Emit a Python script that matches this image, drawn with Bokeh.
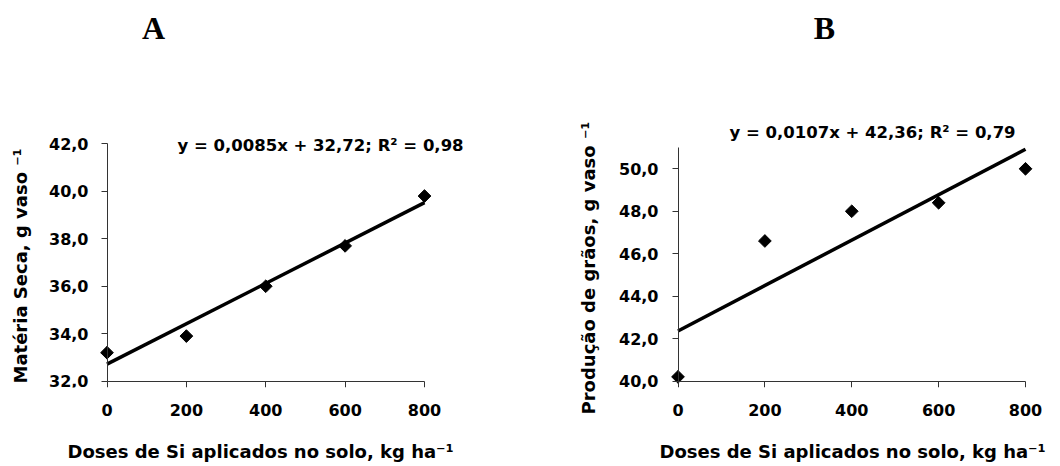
import math
from bokeh.plotting import figure
from bokeh.layouts import row
from bokeh.models import Range1d, FixedTicker, CustomJSTickFormatter, Label, LinearAxis, Title
from bokeh.embed import file_html
from bokeh.resources import INLINE

# ---------------- data ----------------
doses = [0, 200, 400, 600, 800]
materia_seca = [33.2, 33.9, 36.0, 37.7, 39.8]
producao_graos = [40.2, 46.6, 48.0, 48.4, 50.0]

fit_x = [0, 800]
fit_materia = [32.72, 39.52]
fit_producao = [42.36, 50.92]

x_ticks = [0, 200, 400, 600, 800]
y_ticks_A = [32, 34, 36, 38, 40, 42]
y_ticks_B = [40, 42, 44, 46, 48, 50]

eq_A = "y = 0,0085x + 32,72; R² = 0,98"
eq_B = "y = 0,0107x + 42,36; R² = 0,79"
x_title = "Doses de Si aplicados no solo, kg ha⁻¹"
y_title_A = "Matéria Seca, g vaso  ⁻¹"
y_title_B = "Produção de grãos, g vaso  ⁻¹"
heading_A = "A"
heading_B = "B"

# ---------------- layout ----------------
W, H = 530, 466
FONT = "DejaVu Sans"
AXIS_COLOR = "#333333"
TICK_FONT = "16px"
TITLE_FONT = "18px"
EQ_FONT = "16.5px"
COMMA = "return tick.toFixed(1).replace('.', ',');"


def bold_ticks(ax):
    ax.major_label_text_font = FONT
    ax.major_label_text_font_style = "bold"
    ax.major_label_text_font_size = TICK_FONT
    ax.major_label_text_color = "black"


def no_rule(ax):
    ax.axis_line_color = None
    ax.major_tick_line_color = None
    ax.minor_tick_line_color = None
    ax.major_tick_in = 0
    ax.major_tick_out = 0
    ax.minor_tick_in = 0
    ax.minor_tick_out = 0


def make_panel(frame, xpix, ypix, xvals, yvals, ybounds, yticks,
               xs, ys, fx, fy, y_title, ytitle_offset, ytitle_standoff,
               ylabel_mode, ylabel_standoff, eq, eq_pos, heading, head_pos):
    fl, fr, ft, fb = frame
    sx = (xpix[1] - xpix[0]) / (xvals[1] - xvals[0])
    sy = (ypix[0] - ypix[1]) / (yvals[1] - yvals[0])
    x_start = xvals[0] - (xpix[0] - fl) / sx
    x_end = xvals[1] + (fr - xpix[1]) / sx
    y_start = yvals[0] - (fb - ypix[0]) / sy
    y_end = yvals[1] + (ypix[1] - ft) / sy

    def dx(px):
        return xvals[0] + (px - xpix[0]) / sx

    def dy(py):
        return yvals[0] + (ypix[0] - py) / sy

    p = figure(width=W, height=H, x_range=Range1d(x_start, x_end),
               y_range=Range1d(y_start, y_end), output_backend="svg",
               toolbar_location=None,
               min_border_left=fl, min_border_right=W - fr,
               min_border_top=ft, min_border_bottom=H - fb)
    p.outline_line_color = None
    p.xgrid.visible = False
    p.ygrid.visible = False
    p.background_fill_color = "white"
    p.border_fill_color = "white"

    # bottom axis at frame edge: tick labels and x title only
    xa = p.xaxis[0]
    xa.ticker = FixedTicker(ticks=x_ticks)
    xa.bounds = (x_ticks[0], x_ticks[-1])
    no_rule(xa)
    bold_ticks(xa)
    xa.major_label_standoff = 16
    xa.axis_label = x_title
    xa.axis_label_standoff = 22
    xa.axis_label_text_font = FONT
    xa.axis_label_text_font_style = "bold"
    xa.axis_label_text_font_size = TITLE_FONT
    xa.axis_label_text_color = "black"

    # left axis at frame edge: tick labels (mode "edge") or hidden
    ya = p.yaxis[0]
    if ylabel_mode == "edge":
        ya.ticker = FixedTicker(ticks=yticks)
        ya.bounds = ybounds
        ya.formatter = CustomJSTickFormatter(code=COMMA)
        no_rule(ya)
        bold_ticks(ya)
        ya.major_label_standoff = ylabel_standoff
    else:
        ya.visible = False

    # x axis line and ticks at y = axis minimum
    x_line = LinearAxis(ticker=FixedTicker(ticks=x_ticks), bounds=(x_ticks[0], x_ticks[-1]),
                        fixed_location=yvals[0],
                        formatter=CustomJSTickFormatter(code="return '';"))
    x_line.axis_line_color = AXIS_COLOR
    x_line.major_tick_line_color = AXIS_COLOR
    x_line.major_tick_in = 6
    x_line.major_tick_out = 0
    x_line.minor_tick_line_color = None
    x_line.minor_tick_in = 0
    x_line.minor_tick_out = 0
    x_line.major_label_standoff = 0
    x_line.major_label_text_font_size = "0px"
    p.add_layout(x_line, "above")

    # y axis line and ticks at x = 0 (tick labels too in mode "fixed")
    if ylabel_mode == "fixed":
        fmt = CustomJSTickFormatter(code=COMMA)
    else:
        fmt = CustomJSTickFormatter(code="return '';")
    y_line = LinearAxis(ticker=FixedTicker(ticks=yticks), bounds=ybounds,
                        fixed_location=xvals[0], formatter=fmt)
    y_line.axis_line_color = AXIS_COLOR
    y_line.major_tick_line_color = AXIS_COLOR
    y_line.major_tick_in = 6
    y_line.major_tick_out = 0
    y_line.minor_tick_line_color = None
    y_line.minor_tick_in = 0
    y_line.minor_tick_out = 0
    if ylabel_mode == "fixed":
        y_line.major_label_standoff = ylabel_standoff
        bold_ticks(y_line)
    else:
        y_line.major_label_standoff = 0
        y_line.major_label_text_font_size = "0px"
    p.add_layout(y_line, "right")

    # y title
    p.add_layout(Title(text=y_title, align="left", vertical_align="bottom",
                       offset=ytitle_offset, standoff=ytitle_standoff,
                       text_font=FONT, text_font_style="bold",
                       text_font_size=TITLE_FONT, text_color="black"), "left")

    # trend line and points
    p.line(fx, fy, line_color="black", line_width=3.5)
    p.scatter(xs, ys, marker="square", angle=math.pi / 4, size=9,
              fill_color="black", line_color="black")

    # texts inside the frame
    p.add_layout(Label(x=dx(eq_pos[0]), y=dy(eq_pos[1]), text=eq,
                       text_align="center", text_baseline="middle",
                       text_font=FONT, text_font_style="bold",
                       text_font_size=EQ_FONT, text_color="black"))
    p.add_layout(Label(x=dx(head_pos[0]), y=dy(head_pos[1]), text=heading,
                       text_align="center", text_baseline="middle",
                       text_font="Liberation Serif", text_font_style="bold",
                       text_font_size="32px", text_color="black"))
    return p


# panel A (figure pixel coordinates)
pA = make_panel(frame=(38, 482, 8, 387), xpix=(106.5, 424), ypix=(380.7, 143.3),
                xvals=(0, 800), yvals=(32, 42), ybounds=(32, 42), yticks=y_ticks_A,
                xs=doses, ys=materia_seca, fx=fit_x, fy=fit_materia,
                y_title=y_title_A, ytitle_offset=4, ytitle_standoff=15,
                ylabel_mode="fixed", ylabel_standoff=-58,
                eq=eq_A, eq_pos=(320, 145), heading=heading_A, head_pos=(153, 27.5))
# panel B
pB = make_panel(frame=(134, 510, 8, 387), xpix=(147.5, 495), ypix=(380.6, 168.3),
                xvals=(0, 800), yvals=(40, 50), ybounds=(40, 51), yticks=y_ticks_B,
                xs=doses, ys=producao_graos, fx=fit_x, fy=fit_producao,
                y_title=y_title_B, ytitle_offset=-27, ytitle_standoff=36,
                ylabel_mode="edge", ylabel_standoff=6,
                eq=eq_B, eq_pos=(342, 132), heading=heading_B, head_pos=(294, 27.5))

layout = row(pA, pB)
open("out.html", "w").write(file_html(layout, INLINE))
